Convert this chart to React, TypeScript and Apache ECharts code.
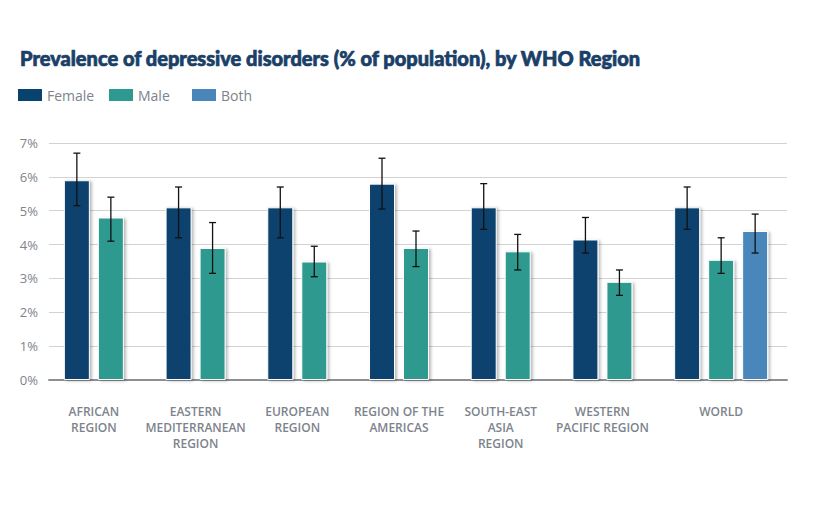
import React, { useEffect, useRef } from "react";
import * as echarts from "echarts";

const categories = [
  "AFRICAN\nREGION",
  "EASTERN\nMEDITERRANEAN\nREGION",
  "EUROPEAN\nREGION",
  "REGION OF THE\nAMERICAS",
  "SOUTH-EAST\nASIA\nREGION",
  "WESTERN\nPACIFIC REGION",
  "WORLD",
];

const female = [5.9, 5.1, 5.1, 5.8, 5.1, 4.15, 5.1];
const femaleLow = [5.15, 4.2, 4.2, 5.05, 4.45, 3.75, 4.45];
const femaleHigh = [6.7, 5.7, 5.7, 6.55, 5.8, 4.8, 5.7];

const male = [4.8, 3.9, 3.5, 3.9, 3.8, 2.9, 3.55];
const maleLow = [4.1, 3.15, 3.05, 3.35, 3.25, 2.5, 3.15];
const maleHigh = [5.4, 4.65, 3.95, 4.4, 4.3, 3.25, 4.2];

const both = [null, null, null, null, null, null, 4.4];
const bothLow = [null, null, null, null, null, null, 3.75];
const bothHigh = [null, null, null, null, null, null, 4.9];

const yTicks = [0, 1, 2, 3, 4, 5, 6, 7];

const COLORS = { Female: "#08426e", Male: "#2e9a8f", Both: "#4a86b9" };
const BAR_WIDTH = 26;
const BAR_GAP = 8;
const LABEL_GREY = "#7d838c";
const PAIR_SHIFT = (BAR_WIDTH + BAR_GAP) / 2;

function errorSeries(name: string, lows: (number | null)[], highs: (number | null)[], slot: number) {
  const data = lows
    .map((l, i) => (l == null ? null : [i, l, highs[i]]))
    .filter((d) => d !== null);
  return {
    type: "custom",
    name: name + " CI",
    xAxisIndex: 1,
    yAxisIndex: 1,
    z: 10,
    silent: true,
    encode: { x: 0, y: [1, 2] },
    data,
    renderItem: (params: any, api: any) => {
      const i = api.value(0);
      const top = api.coord([i, api.value(2)]);
      const bot = api.coord([i, api.value(1)]);
      const x = top[0] + slot * (BAR_WIDTH + BAR_GAP);
      const cap = 3.5;
      const style = { stroke: "#111111", lineWidth: 1.3 };
      return {
        type: "group",
        children: [
          { type: "line", shape: { x1: x, y1: top[1], x2: x, y2: bot[1] }, style },
          { type: "line", shape: { x1: x - cap, y1: top[1], x2: x + cap, y2: top[1] }, style },
          { type: "line", shape: { x1: x - cap, y1: bot[1], x2: x + cap, y2: bot[1] }, style },
        ],
      };
    },
  };
}

function barSeries(name: "Female" | "Male" | "Both", values: (number | null)[]) {
  return {
    type: "bar",
    name,
    xAxisIndex: 1,
    yAxisIndex: 1,
    barWidth: BAR_WIDTH,
    barGap: (BAR_GAP / BAR_WIDTH) * 100 + "%",
    data: values,
    itemStyle: {
      color: COLORS[name],
      borderColor: "#ffffff",
      borderWidth: 1,
      shadowColor: "rgba(0,0,0,0.28)",
      shadowBlur: 3,
      shadowOffsetX: 2,
      shadowOffsetY: 1,
    },
  };
}

function legend(name: string, left: number) {
  return {
    data: [name],
    left,
    top: 88,
    padding: 0,
    itemWidth: 24,
    itemHeight: 12,
    itemGap: 0,
    icon: "rect",
    itemStyle: { borderWidth: 0, shadowBlur: 0, shadowOffsetX: 0, shadowOffsetY: 0 },
    textStyle: { color: LABEL_GREY, fontSize: 14, fontFamily: "Open Sans" },
    selectedMode: false,
  };
}

const labelStyle = {
  interval: 0,
  margin: 23,
  fontSize: 12,
  lineHeight: 16,
  color: LABEL_GREY,
  fontFamily: "Open Sans",
  fontWeight: 600,
};

export default function App() {
  const ref = useRef<HTMLDivElement>(null);
  useEffect(() => {
    if (!ref.current) return;
    const chart = echarts.init(ref.current, null, { renderer: "svg" });
    const last = categories.length - 1;
    chart.setOption({
      animation: false,
      backgroundColor: "#ffffff",
      title: {
        text: "Prevalence of depressive disorders (% of population), by WHO Region",
        left: 15,
        top: 43,
        textStyle: {
          color: "#1b4068",
          fontSize: 20,
          fontWeight: 900,
          fontFamily: "Lato",
          textBorderColor: "#1b4068",
          textBorderWidth: 0.7,
        },
      },
      legend: [legend("Female", 18), legend("Male", 109), legend("Both", 192)],
      grid: [
        { left: 49, right: 53, top: 143, bottom: 135 },
        { left: 60, right: 68, top: 143, bottom: 135 },
        { left: 60 - PAIR_SHIFT, right: 68 + PAIR_SHIFT, top: 143, bottom: 135 },
      ],
      xAxis: [
        {
          type: "value",
          gridIndex: 0,
          min: 0,
          max: 1,
          axisLine: { show: true, lineStyle: { color: "#8c9095", width: 2 } },
          axisTick: { show: false },
          axisLabel: { show: false },
          splitLine: { show: false },
        },
        {
          type: "category",
          gridIndex: 1,
          data: categories,
          axisLine: { show: false },
          axisTick: { show: false },
          axisLabel: {
            ...labelStyle,
            formatter: (v: string, i: number) => (i === last ? v : ""),
          },
        },
        {
          type: "category",
          gridIndex: 2,
          data: categories,
          axisLine: { show: false },
          axisTick: { show: false },
          axisLabel: {
            ...labelStyle,
            formatter: (v: string, i: number) => (i === last ? "" : v),
          },
        },
      ],
      yAxis: [
        {
          type: "value",
          gridIndex: 0,
          min: yTicks[0],
          max: yTicks[yTicks.length - 1],
          interval: 1,
          axisLine: { show: false },
          axisTick: { show: false },
          axisLabel: { formatter: "{value}%", color: LABEL_GREY, fontSize: 13, fontFamily: "Open Sans", margin: 11 },
          splitLine: { lineStyle: { color: "#d2d2d2", width: 1 } },
        },
        {
          type: "value",
          gridIndex: 1,
          min: yTicks[0],
          max: yTicks[yTicks.length - 1],
          interval: 1,
          show: false,
          splitLine: { show: false },
        },
        {
          type: "value",
          gridIndex: 2,
          min: yTicks[0],
          max: yTicks[yTicks.length - 1],
          interval: 1,
          show: false,
          splitLine: { show: false },
        },
      ],
      series: [
        barSeries("Female", female),
        barSeries("Male", male),
        barSeries("Both", both),
        errorSeries("Female", femaleLow, femaleHigh, -1),
        errorSeries("Male", maleLow, maleHigh, 0),
        errorSeries("Both", bothLow, bothHigh, 1),
      ],
    });
    return () => chart.dispose();
  }, []);
  return (
    <div
      ref={ref}
      style={{ position: "fixed", left: 0, top: 0, width: 840, height: 515, background: "#fff" }}
    />
  );
}
